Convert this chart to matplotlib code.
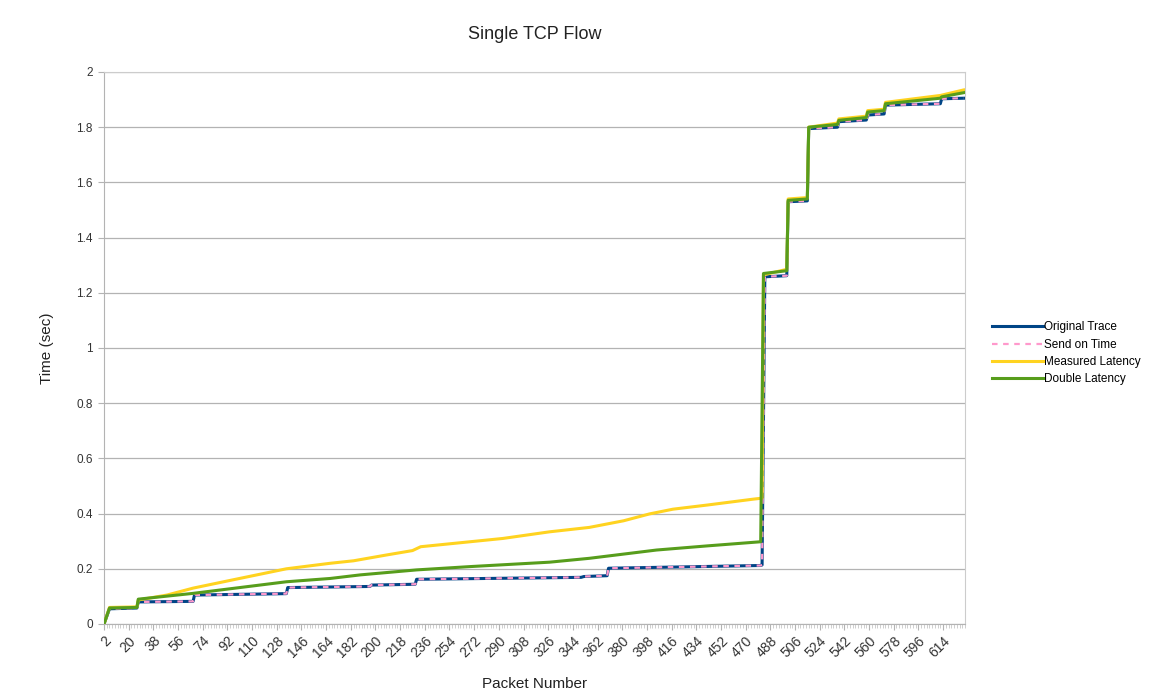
import matplotlib
matplotlib.use("Agg")
import matplotlib.pyplot as plt
from matplotlib.ticker import MultipleLocator, FixedLocator

plt.rcParams['font.family'] = ['Liberation Sans', 'DejaVu Sans']

# ---- data (breakpoints) ----
orig_pkt = [2, 6, 26, 27, 67, 68, 135, 136, 196, 197, 229, 230, 350, 352, 369, 370,
            481, 482, 484, 500, 501, 515, 516, 537, 538, 558, 559, 571, 572, 612, 613, 629]
orig_time = [0.0, 0.055, 0.058, 0.080, 0.082, 0.105, 0.110, 0.132, 0.136, 0.141, 0.144, 0.162,
             0.169, 0.172, 0.175, 0.202, 0.212, 0.214, 1.258, 1.262, 1.530, 1.533, 1.795,
             1.800, 1.820, 1.826, 1.844, 1.848, 1.880, 1.885, 1.903, 1.905]

send_pkt = orig_pkt
send_time = orig_time

meas_pkt = [2, 6, 26, 27, 48, 67, 96, 135, 167, 184, 208, 227, 233, 269, 293, 327, 356,
            381, 400, 417, 442, 475, 482, 483, 500, 501, 515, 516, 537, 538, 558, 559,
            571, 572, 612, 629]
meas_time = [0.0, 0.06, 0.062, 0.087, 0.105, 0.13, 0.16, 0.20, 0.22, 0.229, 0.25, 0.266,
             0.28, 0.298, 0.31, 0.334, 0.35, 0.374, 0.399, 0.416, 0.431, 0.452, 0.456,
             1.265, 1.285, 1.540, 1.545, 1.800, 1.815, 1.830, 1.840, 1.860, 1.865, 1.890,
             1.915, 1.935]

dbl_pkt = [2, 6, 26, 27, 67, 101, 135, 167, 189, 230, 269, 327, 356, 405, 442, 481, 483,
           500, 501, 515, 516, 537, 538, 558, 559, 571, 572, 612, 613, 629]
dbl_time = [0.0, 0.058, 0.060, 0.090, 0.111, 0.132, 0.153, 0.165, 0.178, 0.196, 0.208,
            0.224, 0.238, 0.268, 0.283, 0.298, 1.270, 1.280, 1.535, 1.540, 1.800, 1.810,
            1.825, 1.835, 1.855, 1.860, 1.885, 1.905, 1.910, 1.925]

x_ticks = list(range(2, 615, 18))
y_ticks = [0, 0.2, 0.4, 0.6, 0.8, 1.0, 1.2, 1.4, 1.6, 1.8, 2.0]
y_tick_labels = ['0', '0.2', '0.4', '0.6', '0.8', '1', '1.2', '1.4', '1.6', '1.8', '2']

# ---- figure ----
fig = plt.figure(figsize=(11.51, 6.93), dpi=100)
ax = fig.add_axes([104/1151, 1-624/693, (965-104)/1151, (624-72)/693])

ax.plot(orig_pkt, orig_time, color='#004586', lw=2.2, label='Original Trace', zorder=3)
ax.plot(send_pkt, send_time, color='#ff99cc', lw=1.6, ls=(0, (2.5, 2.5)),
        label='Send on Time', zorder=4)
ax.plot(meas_pkt, meas_time, color='#ffd320', lw=2.2, label='Measured Latency', zorder=5)
ax.plot(dbl_pkt, dbl_time, color='#579d1c', lw=2.2, label='Double Latency', zorder=6)

ax.set_xlim(2, 630)
ax.set_ylim(0, 2)
ax.xaxis.set_major_locator(FixedLocator(x_ticks))
ax.xaxis.set_minor_locator(MultipleLocator(2))
ax.set_xticklabels([str(t) for t in x_ticks], rotation=45, ha='right',
                   rotation_mode='anchor', fontsize=10, color='#333333')
ax.set_yticks(y_ticks)
ax.set_yticklabels(y_tick_labels, fontsize=8.5, color='#333333')
ax.tick_params(axis='x', which='major', length=4, color='#b3b3b3', pad=3)
ax.tick_params(axis='x', which='minor', length=3, color='#c8c8c8')
ax.tick_params(axis='y', which='major', length=4, color='#b3b3b3', pad=4)

ax.grid(axis='y', color='#b3b3b3', lw=0.9)
ax.set_axisbelow(True)
for s in ['left', 'bottom']:
    ax.spines[s].set_color('#b3b3b3')
for s in ['top', 'right']:
    ax.spines[s].set_color('#cccccc')

ax.set_title('Single TCP Flow', fontsize=13, pad=24, color='#222222')
ax.set_xlabel('Packet Number', fontsize=11, labelpad=12, color='#222222')
ax.set_ylabel('Time (sec)', fontsize=11, labelpad=16, color='#222222')

fig.legend(loc='center left', bbox_to_anchor=(0.858, 0.49), frameon=False,
           fontsize=8.5, handlelength=4.3, handletextpad=0.1, labelspacing=0.45,
           borderaxespad=0)

fig.savefig('out.png', dpi=100, facecolor='white')
